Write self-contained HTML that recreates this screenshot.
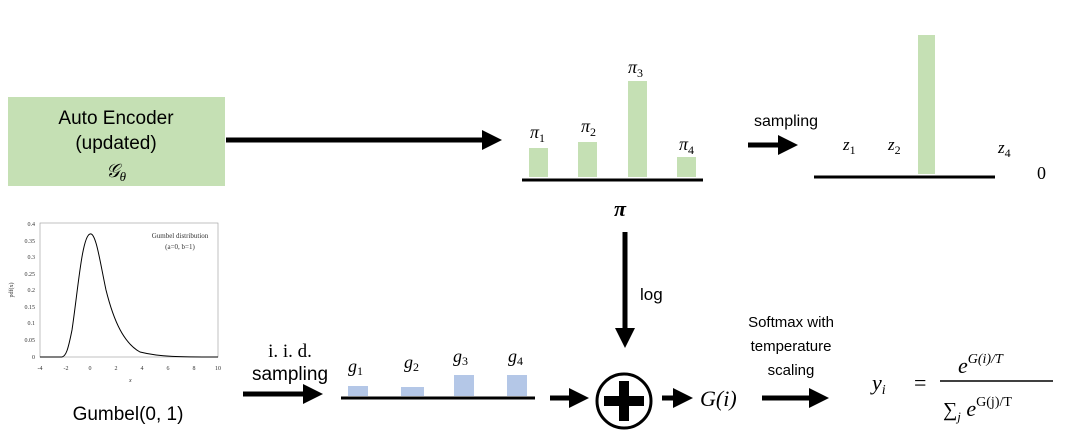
<!DOCTYPE html>
<html><head><meta charset="utf-8"><style>
body{margin:0;background:#fff;width:1068px;height:433px;overflow:hidden;font-family:"Liberation Sans",sans-serif}
</style></head><body>
<svg width="1068" height="433" xmlns="http://www.w3.org/2000/svg">
<defs><marker id="ah" markerWidth="4" markerHeight="4" refX="3" refY="2" orient="auto" markerUnits="strokeWidth"><path d="M0,0 L4,2 L0,4 z" fill="#000"/></marker></defs>
<!-- encoder -->
<rect x="8" y="97" width="217" height="89" fill="#c5e0b4"/>
<g font-size="19" text-anchor="middle" fill="#000">
<text x="116" y="124">Auto Encoder</text>
<text x="116" y="149">(updated)</text>
<text x="116" y="177" font-family="Liberation Serif" font-style="italic">𝒢<tspan font-size="13" dy="4">θ</tspan></text>
</g>
<line x1="226" y1="140" x2="497" y2="140" stroke="#000" stroke-width="5" marker-end="url(#ah)"/>
<!-- pi bars -->
<g fill="#c5e0b4"><rect x="529" y="148" width="19" height="29"/><rect x="578" y="142" width="19" height="35"/><rect x="628" y="81" width="19" height="96"/><rect x="677" y="157" width="19" height="20"/></g>
<line x1="522" y1="180" x2="703" y2="180" stroke="#000" stroke-width="3"/>
<g font-family="Liberation Serif" font-style="italic" font-size="18">
<text x="530" y="138">π<tspan font-size="12" dy="4" font-style="normal">1</tspan></text>
<text x="581" y="132">π<tspan font-size="12" dy="4" font-style="normal">2</tspan></text>
<text x="628" y="73">π<tspan font-size="12" dy="4" font-style="normal">3</tspan></text>
<text x="679" y="150">π<tspan font-size="12" dy="4" font-style="normal">4</tspan></text>
<text x="614" y="216" font-weight="bold" font-size="22">π</text>
</g>
<text x="786" y="126" font-size="16" text-anchor="middle">sampling</text>
<line x1="748" y1="145" x2="793" y2="145" stroke="#000" stroke-width="5" marker-end="url(#ah)"/>
<rect x="918" y="35" width="17" height="139" fill="#c5e0b4"/>
<line x1="814" y1="177" x2="995" y2="177" stroke="#000" stroke-width="3"/>
<g font-family="Liberation Serif" font-style="italic" font-size="17">
<text x="843" y="150">z<tspan font-size="12" dy="4" font-style="normal">1</tspan></text>
<text x="888" y="150">z<tspan font-size="12" dy="4" font-style="normal">2</tspan></text>
<text x="998" y="153">z<tspan font-size="12" dy="4" font-style="normal">4</tspan></text>
</g>
<text x="1037" y="179" font-family="Liberation Serif" font-size="18">0</text>
<!-- gumbel plot -->
<g font-family="Liberation Serif" font-size="6" fill="#333">
<rect x="40" y="223" width="178" height="134" fill="none" stroke="#999" stroke-width="0.6"/>
<text x="35" y="226" text-anchor="end">0.4</text><text x="35" y="243" text-anchor="end">0.35</text><text x="35" y="259" text-anchor="end">0.3</text><text x="35" y="276" text-anchor="end">0.25</text><text x="35" y="292" text-anchor="end">0.2</text><text x="35" y="309" text-anchor="end">0.15</text><text x="35" y="325" text-anchor="end">0.1</text><text x="35" y="342" text-anchor="end">0.05</text><text x="35" y="359" text-anchor="end">0</text>
<text x="40" y="370" text-anchor="middle">-4</text><text x="66" y="370" text-anchor="middle">-2</text><text x="90" y="370" text-anchor="middle">0</text><text x="116" y="370" text-anchor="middle">2</text><text x="142" y="370" text-anchor="middle">4</text><text x="168" y="370" text-anchor="middle">6</text><text x="194" y="370" text-anchor="middle">8</text><text x="218" y="370" text-anchor="middle">10</text>
<text x="129" y="382" font-style="italic">x</text>
<text x="13" y="290" transform="rotate(-90 13 290)" text-anchor="middle">pdf(x)</text>
<text x="180" y="238" text-anchor="middle" font-size="7">Gumbel distribution</text>
<text x="180" y="249" text-anchor="middle" font-size="7">(a=0, b=1)</text>
</g>
<path d="M40,357 L62,357 C66,356 68,350 72,330 C78,290 82,236 90,234 C96,232 100,262 106,290 C114,322 124,343 140,352 C160,357 180,357 218,357" fill="none" stroke="#000" stroke-width="1"/>
<text x="128" y="420" font-size="19" text-anchor="middle">Gumbel(0, 1)</text>
<!-- iid -->
<text x="290" y="357" font-family="Liberation Serif" font-size="19" text-anchor="middle">i. i. d.</text>
<text x="290" y="380" font-size="19" text-anchor="middle">sampling</text>
<line x1="243" y1="394" x2="318" y2="394" stroke="#000" stroke-width="5" marker-end="url(#ah)"/>
<g fill="#b4c7e7"><rect x="348" y="386" width="20" height="10"/><rect x="401" y="387" width="23" height="9"/><rect x="454" y="375" width="20" height="21"/><rect x="507" y="375" width="20" height="21"/></g>
<line x1="341" y1="398" x2="535" y2="398" stroke="#000" stroke-width="3"/>
<g font-family="Liberation Serif" font-style="italic" font-size="18">
<text x="348" y="372">g<tspan font-size="12" dy="3" font-style="normal">1</tspan></text>
<text x="404" y="368">g<tspan font-size="12" dy="3" font-style="normal">2</tspan></text>
<text x="453" y="362">g<tspan font-size="12" dy="3" font-style="normal">3</tspan></text>
<text x="508" y="362">g<tspan font-size="12" dy="3" font-style="normal">4</tspan></text>
</g>
<line x1="550" y1="398" x2="584" y2="398" stroke="#000" stroke-width="5" marker-end="url(#ah)"/>
<line x1="625" y1="232" x2="625" y2="343" stroke="#000" stroke-width="5" marker-end="url(#ah)"/>
<text x="640" y="300" font-size="17">log</text>
<circle cx="624" cy="401" r="27" fill="none" stroke="#000" stroke-width="3"/>
<rect x="619" y="381" width="10" height="40" fill="#000"/><rect x="604" y="396" width="40" height="10" fill="#000"/>
<line x1="662" y1="398" x2="688" y2="398" stroke="#000" stroke-width="5" marker-end="url(#ah)"/>
<text x="700" y="406" font-family="Liberation Serif" font-style="italic" font-size="22">G(i)</text>
<g font-size="15" text-anchor="middle"><text x="791" y="327">Softmax with</text><text x="791" y="351">temperature</text><text x="791" y="375">scaling</text></g>
<line x1="762" y1="398" x2="824" y2="398" stroke="#000" stroke-width="5" marker-end="url(#ah)"/>
<g font-family="Liberation Serif" font-style="italic">
<text x="872" y="390" font-size="22">y<tspan font-size="14" dy="4">i</tspan></text>
<text x="914" y="390" font-size="22" font-style="normal">=</text>
<text x="958" y="373" font-size="22">e<tspan font-size="14" dy="-10">G(i)/T</tspan></text>
<text x="943" y="416" font-size="20" font-style="normal">∑<tspan font-size="13" dy="5" font-style="italic">j</tspan><tspan font-size="22" dy="-5" font-style="italic"> e</tspan><tspan font-size="14" dy="-10">G(j)/T</tspan></text>
</g>
<line x1="940" y1="381" x2="1053" y2="381" stroke="#000" stroke-width="1.5"/>
</svg>
</body></html>
